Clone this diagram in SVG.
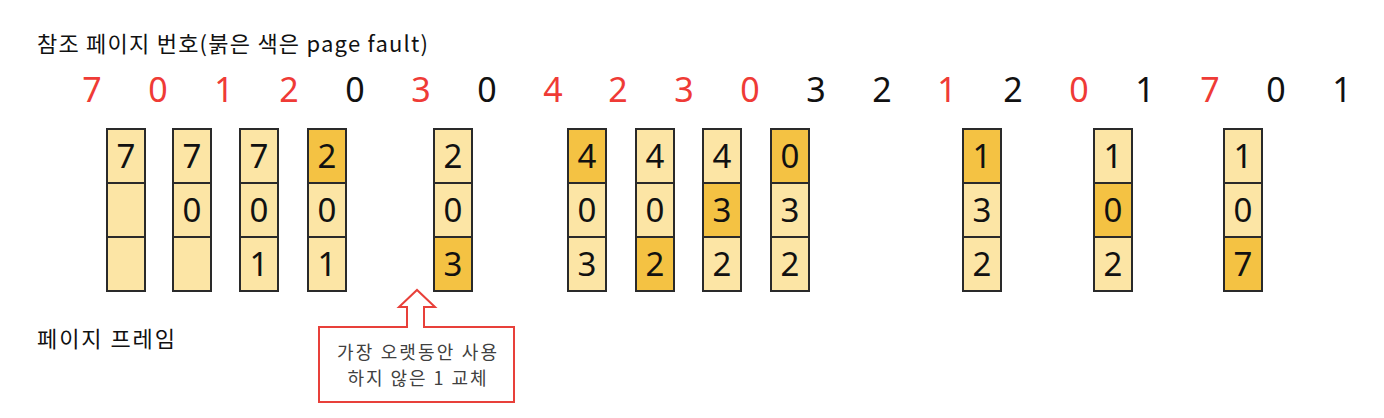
<svg xmlns="http://www.w3.org/2000/svg" width="1384" height="418" viewBox="0 0 1384 418">
<style>
text{font-family:"Noto Sans","Noto Sans CJK KR",sans-serif;}
.kr{font-family:"Noto Sans CJK KR","Noto Sans",sans-serif;fill:#111;}
.ref{font-size:34px;text-anchor:middle;fill:#111;}
.f{fill:#EF3B36;}
.c{fill:#FCE5A5;stroke:#2a2a2a;stroke-width:2;}
.d{fill:#F4C243;stroke:#2a2a2a;stroke-width:2;}
.v{font-size:33px;text-anchor:middle;fill:#111;}
.call{fill:#fff;stroke:#E8403A;stroke-width:2;}
.ct{font-family:"Noto Sans CJK KR",sans-serif;font-size:18px;fill:#404040;text-anchor:middle;}
</style>
<text class="kr" x="37" y="52" font-size="22" textLength="391" lengthAdjust="spacing">참조 페이지 번호(붉은 색은 page fault)</text>
<g id="refs">
<text class="ref f" x="92" y="102">7</text>
<text class="ref f" x="158" y="102">0</text>
<text class="ref f" x="224" y="102">1</text>
<text class="ref f" x="289" y="102">2</text>
<text class="ref" x="355" y="102">0</text>
<text class="ref f" x="421" y="102">3</text>
<text class="ref" x="487" y="102">0</text>
<text class="ref f" x="553" y="102">4</text>
<text class="ref f" x="618" y="102">2</text>
<text class="ref f" x="684" y="102">3</text>
<text class="ref f" x="750" y="102">0</text>
<text class="ref" x="816" y="102">3</text>
<text class="ref" x="882" y="102">2</text>
<text class="ref f" x="947" y="102">1</text>
<text class="ref" x="1013" y="102">2</text>
<text class="ref f" x="1079" y="102">0</text>
<text class="ref" x="1145" y="102">1</text>
<text class="ref f" x="1210" y="102">7</text>
<text class="ref" x="1276" y="102">0</text>
<text class="ref" x="1342" y="102">1</text>
</g>
<g id="frame0"><rect class="c" x="107" y="129" width="38" height="54"/><rect class="c" x="107" y="183" width="38" height="54"/><rect class="c" x="107" y="237" width="38" height="54"/><text class="v" x="126" y="168">7</text></g>
<g id="frame1"><rect class="c" x="173" y="129" width="38" height="54"/><rect class="c" x="173" y="183" width="38" height="54"/><rect class="c" x="173" y="237" width="38" height="54"/><text class="v" x="192" y="168">7</text><text class="v" x="192" y="222">0</text></g>
<g id="frame2"><rect class="c" x="240" y="129" width="38" height="54"/><rect class="c" x="240" y="183" width="38" height="54"/><rect class="c" x="240" y="237" width="38" height="54"/><text class="v" x="259" y="168">7</text><text class="v" x="259" y="222">0</text><text class="v" x="259" y="276">1</text></g>
<g id="frame3"><rect class="d" x="308" y="129" width="38" height="54"/><rect class="c" x="308" y="183" width="38" height="54"/><rect class="c" x="308" y="237" width="38" height="54"/><text class="v" x="327" y="168">2</text><text class="v" x="327" y="222">0</text><text class="v" x="327" y="276">1</text></g>
<g id="frame5"><rect class="c" x="434" y="129" width="38" height="54"/><rect class="c" x="434" y="183" width="38" height="54"/><rect class="d" x="434" y="237" width="38" height="54"/><text class="v" x="453" y="168">2</text><text class="v" x="453" y="222">0</text><text class="v" x="453" y="276">3</text></g>
<g id="frame7"><rect class="d" x="568" y="129" width="38" height="54"/><rect class="c" x="568" y="183" width="38" height="54"/><rect class="c" x="568" y="237" width="38" height="54"/><text class="v" x="587" y="168">4</text><text class="v" x="587" y="222">0</text><text class="v" x="587" y="276">3</text></g>
<g id="frame8"><rect class="c" x="636" y="129" width="38" height="54"/><rect class="c" x="636" y="183" width="38" height="54"/><rect class="d" x="636" y="237" width="38" height="54"/><text class="v" x="655" y="168">4</text><text class="v" x="655" y="222">0</text><text class="v" x="655" y="276">2</text></g>
<g id="frame9"><rect class="c" x="703" y="129" width="38" height="54"/><rect class="d" x="703" y="183" width="38" height="54"/><rect class="c" x="703" y="237" width="38" height="54"/><text class="v" x="722" y="168">4</text><text class="v" x="722" y="222">3</text><text class="v" x="722" y="276">2</text></g>
<g id="frame10"><rect class="d" x="771" y="129" width="38" height="54"/><rect class="c" x="771" y="183" width="38" height="54"/><rect class="c" x="771" y="237" width="38" height="54"/><text class="v" x="790" y="168">0</text><text class="v" x="790" y="222">3</text><text class="v" x="790" y="276">2</text></g>
<g id="frame13"><rect class="d" x="963" y="129" width="38" height="54"/><rect class="c" x="963" y="183" width="38" height="54"/><rect class="c" x="963" y="237" width="38" height="54"/><text class="v" x="982" y="168">1</text><text class="v" x="982" y="222">3</text><text class="v" x="982" y="276">2</text></g>
<g id="frame15"><rect class="c" x="1094" y="129" width="38" height="54"/><rect class="d" x="1094" y="183" width="38" height="54"/><rect class="c" x="1094" y="237" width="38" height="54"/><text class="v" x="1113" y="168">1</text><text class="v" x="1113" y="222">0</text><text class="v" x="1113" y="276">2</text></g>
<g id="frame17"><rect class="c" x="1224" y="129" width="38" height="54"/><rect class="c" x="1224" y="183" width="38" height="54"/><rect class="d" x="1224" y="237" width="38" height="54"/><text class="v" x="1243" y="168">1</text><text class="v" x="1243" y="222">0</text><text class="v" x="1243" y="276">7</text></g>
<text class="kr" x="37" y="347" font-size="22" textLength="138" lengthAdjust="spacing">페이지 프레임</text>
<g id="callout">
<path class="call" d="M319,327 L407,327 L407,307 L399,307 L417,290 L435,307 L424,307 L424,327 L514,327 L514,402 L319,402 Z"/>
<text class="ct" x="417" y="359" textLength="160" lengthAdjust="spacing">가장 오랫동안 사용</text>
<text class="ct" x="417" y="385" textLength="139" lengthAdjust="spacing">하지 않은 1 교체</text>
</g>
<g id="connectors"></g>
</svg>
